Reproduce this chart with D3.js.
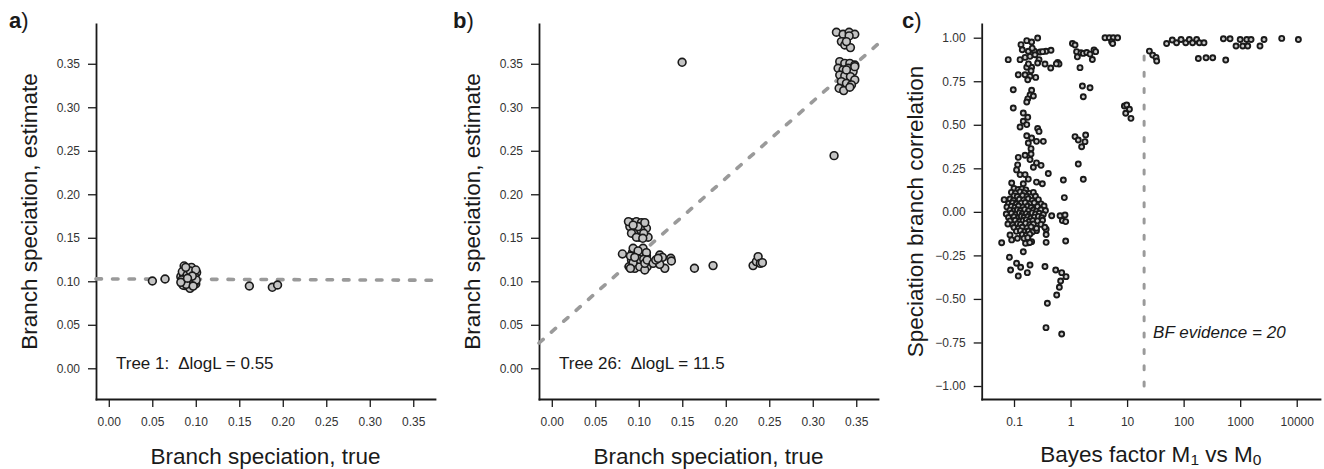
<!DOCTYPE html>
<html>
<head>
<meta charset="utf-8">
<script src="https://cdn.jsdelivr.net/npm/d3@7"></script>
<style>
  body { margin: 0; background: #fff; }
  text { font-family: "Liberation Sans", Arial, Helvetica, sans-serif; }
</style>
</head>
<body>
<svg id="fig" width="1324" height="469"></svg>
<script>
// ---------- data ----------
// Tree 1: [true branch speciation, estimated branch speciation]
const tree1Branches = [
  [0.0501, 0.1003], [0.0647, 0.1026], [0.1616, 0.0946], [0.188, 0.0931], [0.194, 0.0957],
  [0.0866, 0.1176], [0.0934, 0.108], [0.0828, 0.1053], [0.089, 0.112], [0.0975, 0.112],
  [0.101, 0.11], [0.084, 0.098], [0.088, 0.095], [0.092, 0.094], [0.0934, 0.0919],
  [0.1, 0.097], [0.098, 0.101], [0.094, 0.103], [0.09, 0.1], [0.086, 0.107],
  [0.0845, 0.111], [0.091, 0.114], [0.095, 0.116], [0.099, 0.105], [0.087, 0.103],
  [0.093, 0.098], [0.0855, 0.0955], [0.0984, 0.0977], [0.09, 0.107], [0.0955, 0.11],
  [0.1005, 0.1015], [0.089, 0.0965], [0.0935, 0.112], [0.0885, 0.116], [0.1, 0.113],
  [0.084, 0.1015], [0.096, 0.106], [0.0828, 0.0988], [0.097, 0.0945], [0.0905, 0.1035]
];
// Tree 26: [true branch speciation, estimated branch speciation]
const tree26Branches = [
  [0.1498, 0.3517], [0.3245, 0.2444], [0.164, 0.115], [0.1854, 0.118], [0.0812, 0.1314],
  // upper group near 0.10
  [0.0916, 0.1674], [0.0973, 0.1686], [0.103, 0.1674], [0.1088, 0.161], [0.1107, 0.1506],
  [0.1004, 0.1506], [0.0946, 0.1552], [0.1023, 0.159], [0.0897, 0.1629], [0.1057, 0.1552],
  [0.0881, 0.1686], [0.0992, 0.1629], [0.1069, 0.1674], [0.0916, 0.1552], [0.0973, 0.1506],
  [0.1046, 0.1494], [0.0935, 0.1645],
  // lower group near 0.10
  [0.0927, 0.1329], [0.0973, 0.1302], [0.103, 0.1302], [0.1088, 0.129], [0.0916, 0.1244],
  [0.0973, 0.1206], [0.103, 0.1214], [0.1096, 0.1168], [0.0889, 0.1168], [0.0954, 0.1149],
  [0.1011, 0.1168], [0.1069, 0.113], [0.0935, 0.1379], [0.1049, 0.1379], [0.1088, 0.1329],
  [0.0904, 0.129], [0.1004, 0.1252], [0.1057, 0.1252], [0.0935, 0.1214], [0.1069, 0.1206],
  [0.0904, 0.1149], [0.0992, 0.1349], [0.1096, 0.1244], [0.0954, 0.1275],
  // spread 0.12-0.14
  [0.1165, 0.1206], [0.1241, 0.1302], [0.1272, 0.1275], [0.1299, 0.1149], [0.1368, 0.1264],
  [0.1375, 0.1233], [0.1241, 0.1195], [0.1195, 0.1244], [0.1222, 0.1264],
  // group near 0.235
  [0.2314, 0.118], [0.2352, 0.1226], [0.2372, 0.1283], [0.2398, 0.1206], [0.2421, 0.1214],
  // group near 0.34
  [0.3272, 0.3862], [0.3349, 0.3839], [0.3418, 0.3862], [0.3483, 0.3839], [0.3418, 0.382],
  [0.3329, 0.3755], [0.3368, 0.3716], [0.3433, 0.3686], [0.3387, 0.3755],
  [0.331, 0.3524], [0.3368, 0.3505], [0.3426, 0.3505], [0.3483, 0.3486], [0.3291, 0.3448],
  [0.3349, 0.3429], [0.3406, 0.3448], [0.3464, 0.341], [0.331, 0.3371], [0.3368, 0.336],
  [0.3433, 0.3352], [0.3483, 0.3314], [0.3329, 0.3295], [0.3387, 0.3276], [0.3445, 0.3257],
  [0.3303, 0.3218], [0.3356, 0.3192], [0.3426, 0.323], [0.3483, 0.3467], [0.3387, 0.3429]
];
// Bayes factor M1 vs M0 against speciation branch correlation
const bayesCorrelation = [
  // strong evidence
  [24.8, 0.923], [28.4, 0.90], [32.5, 0.887], [33.4, 0.866],
  [50, 0.967], [63, 0.987], [75, 0.971], [90, 0.99], [109, 0.971], [126, 0.99], [144, 0.971],
  [170, 0.99], [190, 0.971], [229, 0.971], [182, 0.881], [249, 0.885], [327, 0.885], [555, 0.872],
  [505, 0.994], [662, 0.994], [845, 0.952], [1000, 0.99], [1110, 0.952], [1306, 0.99],
  [1360, 0.952], [1556, 0.99], [2240, 0.952], [2640, 0.99], [5430, 0.996], [10700, 0.99],
  // between 1 and 20
  [1.08, 0.967], [1.2, 0.958], [1.28, 0.92], [1.32, 0.89], [1.47, 0.828], [1.53, 0.914],
  [1.68, 0.91], [1.93, 0.915], [2.21, 0.906], [2.43, 0.875], [2.6, 0.929], [2.78, 0.92],
  [1.62, 0.723], [2.21, 0.713], [1.68, 0.661],
  [1.2, 0.432], [1.37, 0.413], [1.57, 0.374], [1.85, 0.441], [1.8, 0.403], [1.37, 0.275], [1.68, 0.187],
  [4.07, 1.0], [4.85, 1.0], [5.7, 1.0], [6.8, 1.0], [5.33, 0.977], [5.56, 0.967],
  [8.96, 0.608], [9.84, 0.614], [11, 0.589], [9.45, 0.566], [11.7, 0.537],
  // around 0.4 - 0.8
  [0.746, 0.183], [0.776, 0.082], [0.464, -0.022], [0.652, -0.022], [0.798, -0.018],
  [0.717, -0.05], [0.82, -0.056], [0.82, -0.167],
  [0.353, -0.314], [0.546, -0.334], [0.697, -0.349], [0.832, -0.372], [0.668, -0.397],
  [0.634, -0.433], [0.569, -0.477], [0.389, -0.525], [0.368, -0.665], [0.697, -0.701],
  // negative tail
  [0.0605, -0.177], [0.085, -0.133], [0.091, -0.161], [0.115, -0.152], [0.146, -0.229],
  [0.083, -0.261], [0.111, -0.295], [0.192, -0.305], [0.087, -0.334], [0.131, -0.318],
  [0.119, -0.368], [0.172, -0.349], [0.37, -0.1], [0.37, -0.13], [0.37, -0.175],
  [0.16, -0.157], [0.179, -0.177], [0.205, -0.171], [0.25, -0.108],
  // high correlation, weak evidence
  [0.079, 0.874], [0.133, 0.96], [0.168, 0.983], [0.205, 0.975], [0.262, 0.998], [0.14, 0.931],
  [0.179, 0.922], [0.229, 0.922], [0.288, 0.918], [0.368, 0.922], [0.451, 0.928], [0.128, 0.874],
  [0.157, 0.887], [0.192, 0.893], [0.235, 0.902], [0.277, 0.874], [0.353, 0.849], [0.446, 0.826],
  [0.592, 0.858], [0.625, 0.849], [0.168, 0.83], [0.205, 0.83], [0.262, 0.855], [0.119, 0.787],
  [0.157, 0.787], [0.192, 0.778], [0.242, 0.772], [0.175, 0.759], [0.2, 0.81], [0.18, 0.85],
  [0.21, 0.94], [0.32, 0.92], [0.56, 0.85],
  // middle band
  [0.097, 0.701], [0.205, 0.698], [0.192, 0.671], [0.175, 0.649], [0.168, 0.631], [0.22, 0.665],
  [0.097, 0.596], [0.146, 0.568], [0.175, 0.543], [0.146, 0.52], [0.128, 0.487], [0.168, 0.501],
  [0.262, 0.479], [0.277, 0.462], [0.168, 0.437], [0.205, 0.424], [0.25, 0.405], [0.33, 0.405],
  [0.179, 0.395], [0.2, 0.363], [0.119, 0.313], [0.157, 0.325], [0.2, 0.332], [0.192, 0.3],
  [0.25, 0.281], [0.301, 0.267], [0.22, 0.256], [0.404, 0.22], [0.116, 0.27], [0.111, 0.241],
  [0.128, 0.214], [0.157, 0.214], [0.179, 0.188], [0.091, 0.166], [0.146, 0.161], [0.25, 0.171],
  [0.317, 0.161],
  // dense core near zero correlation
  [0.1, 0.135], [0.118, 0.128], [0.138, 0.132], [0.162, 0.126],
  [0.09, 0.112], [0.106, 0.108], [0.128, 0.115], [0.152, 0.11], [0.188, 0.106], [0.22, 0.112],
  [0.1, 0.092], [0.114, 0.088], [0.142, 0.094], [0.17, 0.09], [0.198, 0.086], [0.24, 0.09],
  [0.067, 0.07], [0.085, 0.074], [0.098, 0.066], [0.124, 0.072], [0.148, 0.068], [0.178, 0.075],
  [0.21, 0.066], [0.27, 0.07],
  [0.08, 0.048], [0.094, 0.052], [0.11, 0.045], [0.134, 0.05], [0.158, 0.054], [0.19, 0.046],
  [0.228, 0.052], [0.3, 0.046],
  [0.075, 0.028], [0.09, 0.032], [0.104, 0.026], [0.12, 0.034], [0.144, 0.028], [0.174, 0.032],
  [0.2, 0.025], [0.26, 0.03], [0.34, 0.034],
  [0.085, 0.01], [0.1, 0.006], [0.115, 0.012], [0.13, 0.008], [0.155, 0.014], [0.18, 0.006],
  [0.22, 0.011], [0.25, 0.004], [0.3, 0.012], [0.36, 0.008],
  [0.073, -0.012], [0.09, -0.008], [0.108, -0.014], [0.125, -0.006], [0.14, -0.012], [0.165, -0.01],
  [0.19, -0.014], [0.21, -0.006], [0.24, -0.012], [0.28, -0.008], [0.33, -0.015],
  [0.08, -0.032], [0.1, -0.028], [0.12, -0.034], [0.135, -0.026], [0.15, -0.032], [0.175, -0.028],
  [0.2, -0.035], [0.23, -0.03], [0.27, -0.026], [0.31, -0.034],
  [0.085, -0.052], [0.105, -0.048], [0.125, -0.054], [0.145, -0.05], [0.165, -0.046], [0.185, -0.055],
  [0.215, -0.05], [0.26, -0.052], [0.32, -0.048],
  [0.078, -0.07], [0.095, -0.074], [0.115, -0.068], [0.13, -0.072], [0.16, -0.066], [0.19, -0.074],
  [0.22, -0.07], [0.3, -0.072],
  [0.1, -0.09], [0.12, -0.094], [0.14, -0.088], [0.17, -0.092], [0.2, -0.086], [0.25, -0.094], [0.35, -0.088],
  [0.11, -0.112], [0.13, -0.108], [0.155, -0.114], [0.18, -0.11], [0.21, -0.116],
  [0.14, -0.13], [0.165, -0.134], [0.19, -0.128],
  [0.15, -0.152], [0.175, -0.148],
  [0.16, -0.18], [0.19, -0.176]
];

// fitted lines (intercept, slope) and evidence threshold
const tree1Fit = [0.1027, -0.004];
const tree26Fit = [0.042, 0.882];
const bfThreshold = 20;

// axis ticks
const rateTicks = [0, 0.05, 0.10, 0.15, 0.20, 0.25, 0.30, 0.35];
const corrTicks = [-1, -0.75, -0.5, -0.25, 0, 0.25, 0.5, 0.75, 1];
const bfTicks = [0.1, 1, 10, 100, 1000, 10000];
const bfTickLabels = ["0.1", "1", "10", "100", "1000", "10000"];

// ---------- drawing ----------
const FONT = '"Liberation Sans", Arial, Helvetica, sans-serif';
const svg = d3.select("#fig");
const plotTop = 24, plotBottom = 399;
const ink = "#1a1a1a";

function drawAxes(g, x, y, xTicks, xFmt, yTicks, yFmt) {
  const ax = g.append("g")
    .attr("transform", `translate(0,${plotBottom})`)
    .call(d3.axisBottom(x).tickValues(xTicks).tickFormat(xFmt)
      .tickSize(8).tickPadding(10).tickSizeOuter(0));
  const ay = g.append("g")
    .attr("transform", `translate(${x.range()[0]},0)`)
    .call(d3.axisLeft(y).tickValues(yTicks).tickFormat(yFmt)
      .tickSize(8).tickPadding(8).tickSizeOuter(0));
  [ax, ay].forEach(a => {
    a.attr("font-family", FONT).attr("font-size", 12);
    a.select(".domain").attr("stroke", ink).attr("stroke-width", 1.8)
      .attr("stroke-linecap", "square");
    a.selectAll(".tick line").attr("stroke", ink).attr("stroke-width", 1.3);
    a.selectAll(".tick text").attr("fill", "#333");
  });
}

function panelLetter(letter, xPos) {
  const t = svg.append("text").attr("x", xPos).attr("y", 28)
    .attr("font-size", 22).attr("fill", ink);
  t.append("tspan").attr("font-weight", "bold").text(letter);
  t.append("tspan").text(")");
}

function yTitle(xAxisPos, label) {
  svg.append("text")
    .attr("transform", `translate(${xAxisPos - 59},${(plotTop + plotBottom) / 2}) rotate(-90)`)
    .attr("text-anchor", "middle").attr("font-size", 22.5).attr("fill", ink)
    .text(label);
}

function rateScatter(cfg) {
  const x = d3.scaleLinear().domain([-0.0147, 0.375]).range([cfg.left, cfg.left + 339]);
  const y = d3.scaleLinear().domain([-0.0353, 0.3957]).range([plotBottom, plotTop]);
  const g = svg.append("g");
  drawAxes(g, x, y, rateTicks, d3.format(".2f"), rateTicks, d3.format(".2f"));

  // regression line across the full plotting range
  const line = d3.line().x(d => x(d)).y(d => y(cfg.fit[0] + cfg.fit[1] * d));
  g.append("path").datum(x.domain())
    .attr("d", line).attr("fill", "none")
    .attr("stroke", "#9a9a9a").attr("stroke-width", 3.6)
    .attr("stroke-dasharray", "5.5,11").attr("stroke-linecap", "round");

  g.append("g").selectAll("circle").data(cfg.points).join("circle")
    .attr("cx", d => x(d[0])).attr("cy", d => y(d[1])).attr("r", 3.9)
    .attr("fill", "#c4c4c4").attr("stroke", ink).attr("stroke-width", 1.6);

  const note = g.append("text").attr("x", cfg.left + 20).attr("y", 369)
    .attr("font-size", 17).attr("fill", ink);
  note.append("tspan").text(cfg.tree + ":");
  note.append("tspan").attr("dx", 9).text("\u0394logL = " + cfg.dlogL);

  g.append("text")
    .attr("x", cfg.left + 169.5).attr("y", 464)
    .attr("text-anchor", "middle").attr("font-size", 22.5).attr("fill", ink)
    .text("Branch speciation, true");
  yTitle(cfg.left, "Branch speciation, estimate");
}

rateScatter({ left: 96, points: tree1Branches, fit: tree1Fit, tree: "Tree 1", dlogL: "0.55" });
rateScatter({ left: 539, points: tree26Branches, fit: tree26Fit, tree: "Tree 26", dlogL: "11.5" });

// ---------- panel c ----------
(function () {
  const left = 981.7;
  const x = d3.scaleLog().domain([0.02683, 25800]).range([left, 1320]);
  const y = d3.scaleLinear().domain([-1.0746, 1.0787]).range([plotBottom, plotTop]);
  const g = svg.append("g");
  drawAxes(g, x, y, bfTicks, (d, i) => bfTickLabels[i], corrTicks, d3.format(".2f"));

  g.append("line")
    .attr("x1", x(bfThreshold)).attr("x2", x(bfThreshold))
    .attr("y1", y(-1.0)).attr("y2", y(0.945))
    .attr("stroke", "#9a9a9a").attr("stroke-width", 3)
    .attr("stroke-dasharray", "4,12.3").attr("stroke-linecap", "round");

  g.append("g").selectAll("circle").data(bayesCorrelation).join("circle")
    .attr("cx", d => x(d[0])).attr("cy", d => y(d[1])).attr("r", 2.5)
    .attr("fill", "#c8c8c8").attr("stroke", ink).attr("stroke-width", 1.9);

  g.append("text").attr("x", x(bfThreshold) + 9).attr("y", 337.7)
    .attr("font-size", 17).attr("font-style", "italic").attr("fill", ink)
    .text("BF evidence = " + bfThreshold);

  const xt = g.append("text").attr("x", (left + 1320) / 2).attr("y", 462)
    .attr("text-anchor", "middle").attr("font-size", 22.5).attr("fill", ink);
  xt.append("tspan").text("Bayes factor M");
  xt.append("tspan").attr("font-size", 15.5).attr("dy", 3).text("1");
  xt.append("tspan").attr("dy", -3).text(" vs M");
  xt.append("tspan").attr("font-size", 15.5).attr("dy", 3).text("0");

  yTitle(left, "Speciation branch correlation");
})();

panelLetter("a", 9);
panelLetter("b", 453);
panelLetter("c", 902);
</script>
</body>
</html>
